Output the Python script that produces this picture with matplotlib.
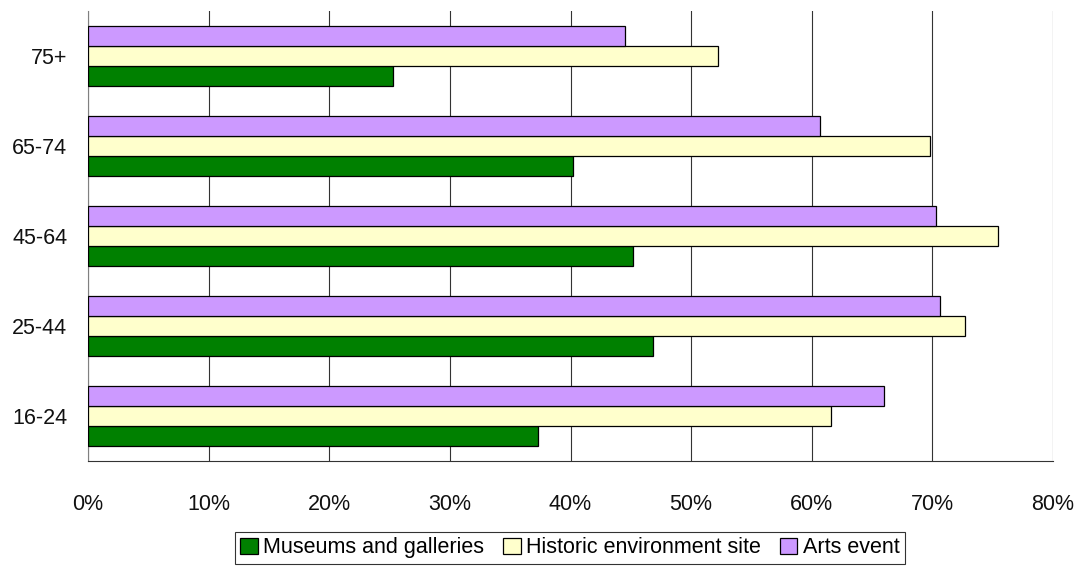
import numpy as np
import matplotlib.pyplot as plt
from matplotlib.ticker import PercentFormatter

plt.rcParams['font.family'] = ['Liberation Sans', 'DejaVu Sans']

age_groups = ["16-24", "25-44", "45-64", "65-74", "75+"]
museums = [37.3, 46.8, 45.2, 40.2, 25.3]
historic = [61.6, 72.7, 75.4, 69.8, 52.2]
arts = [66.0, 70.6, 70.3, 60.7, 44.5]

fig = plt.figure(figsize=(10.8, 5.66), dpi=100)
ax = fig.add_axes([88 / 1080, 1 - 461 / 566, 965 / 1080, 450 / 566])

y = np.arange(len(age_groups))
h = 0.222
edge = dict(edgecolor="black", linewidth=0.9)
ax.barh(y - h, museums, height=h, color="#008000", label="Museums and galleries", zorder=3, **edge)
ax.barh(y, historic, height=h, color="#FFFFCC", label="Historic environment site", zorder=3, **edge)
ax.barh(y + h, arts, height=h, color="#CC99FF", label="Arts event", zorder=3, **edge)

ax.set_xlim(0, 80)
ax.set_ylim(-0.5, 4.5)
ax.set_xticks(np.arange(0, 81, 10))
ax.xaxis.set_major_formatter(PercentFormatter(decimals=0))
ax.set_yticks(y)
ax.set_yticklabels(age_groups)
ax.tick_params(axis="both", length=0, labelsize=15.5, colors="#111111")
ax.tick_params(axis="x", pad=24)
ax.tick_params(axis="y", pad=15)

ax.grid(axis="x", color="#333333", linewidth=0.8, zorder=0)
for side in ["top", "right"]:
    ax.spines[side].set_visible(False)
ax.spines["left"].set_color("#808080")
ax.spines["bottom"].set_color("#333333")
ax.spines["left"].set_linewidth(0.8)
ax.spines["bottom"].set_linewidth(0.8)

leg = fig.legend(loc="upper center", bbox_to_anchor=(570 / 1080, 1 - 532 / 566), ncol=3,
                 fontsize=15.5, frameon=True, fancybox=False, edgecolor="black",
                 handlelength=0.8, handleheight=0.8, handletextpad=0.25,
                 columnspacing=0.9, borderpad=0.25, borderaxespad=0)
leg.get_frame().set_linewidth(0.8)

fig.savefig("out.png", dpi=100)
